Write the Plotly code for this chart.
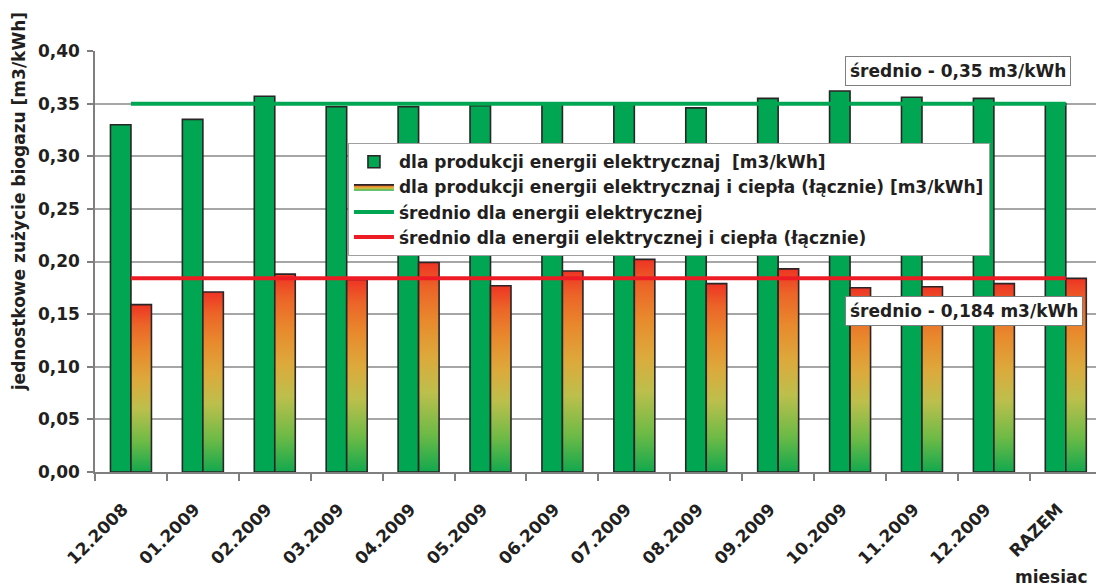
import plotly.graph_objects as go

# Monthly unit biogas consumption [m3/kWh]
months = ["12.2008", "01.2009", "02.2009", "03.2009", "04.2009", "05.2009", "06.2009",
          "07.2009", "08.2009", "09.2009", "10.2009", "11.2009", "12.2009", "RAZEM"]
electric = [0.330, 0.335, 0.357, 0.347, 0.347, 0.348, 0.350,
            0.350, 0.346, 0.355, 0.362, 0.356, 0.355, 0.350]
combined = [0.159, 0.171, 0.188, 0.183, 0.199, 0.177, 0.191,
            0.202, 0.179, 0.193, 0.175, 0.176, 0.179, 0.184]
avg_electric = 0.35
avg_combined = 0.184

y_ticks = [0.0, 0.05, 0.10, 0.15, 0.20, 0.25, 0.30, 0.35, 0.40]

names = {
    "el": "dla produkcji energii elektrycznaj\u00a0 [m3/kWh]",
    "comb": "dla produkcji energii elektrycznaj i ciepła (łącznie) [m3/kWh]",
    "avg_el": "średnio dla energii elektrycznej",
    "avg_comb": "średnio dla energii elektrycznej i ciepła (łącznie)",
}

GREEN = "#00A651"
RED = "#ED1C24"
EDGE = "#2A2526"
TXT = "#231F20"
FONT = "DejaVu Sans"
BW = 0.285  # bar width in category units

idx = list(range(len(months)))

fig = go.Figure()

# Electricity-only bars, left half of each group
fig.add_trace(go.Bar(
    x=idx, y=electric, width=BW, offset=-BW,
    marker=dict(color=GREEN, line=dict(color=EDGE, width=1.6)),
    name=names["el"],
))

# Combined heat+power bars, right half of each group, drawn with a vertical gradient
grad = [[0.0, "#12A84E"], [0.18, "#6DBA46"], [0.38, "#BDBF4C"], [0.55, "#DDA93B"],
        [0.72, "#E88A2D"], [0.88, "#EC6428"], [1.0, "#EE3424"]]
for i, v in zip(idx, combined):
    fig.add_trace(go.Scatter(
        x=[i, i, i + BW, i + BW, i], y=[0, v, v, 0, 0],
        mode="lines", fill="toself",
        fillgradient=dict(type="vertical", colorscale=grad),
        line=dict(color=EDGE, width=1.6),
        name=names["comb"], legendgroup="comb",
        showlegend=(i == 0), hoverinfo="skip",
    ))

# Average lines
fig.add_trace(go.Scatter(
    x=idx, y=[avg_electric] * len(idx), mode="lines",
    line=dict(color=GREEN, width=4), name=names["avg_el"],
))
fig.add_trace(go.Scatter(
    x=idx, y=[avg_combined] * len(idx), mode="lines",
    line=dict(color=RED, width=4), name=names["avg_comb"],
))

fig.update_layout(
    width=1096, height=586,
    margin=dict(l=95, r=0, t=51, b=114),
    paper_bgcolor="white", plot_bgcolor="white",
    separators=", ",
    font=dict(family=FONT, size=17, color=TXT, weight="bold"),
    legend=dict(
        x=0.2527, y=0.781, xanchor="left", yanchor="top",
        bgcolor="white", bordercolor="#A0A0A0", borderwidth=1,
        font=dict(family=FONT, size=17, color=TXT, weight="bold"),
        tracegroupgap=0, itemwidth=40,
    ),
    showlegend=True,
)

fig.update_xaxes(
    range=[-0.5, 13.42],
    tickmode="array", tickvals=[i - 0.11 for i in idx], ticktext=months,
    tickangle=-45, ticks="", ticklabelstandoff=19,
    tickfont=dict(family=FONT, size=17, color=TXT, weight="bold"),
    showline=True, linecolor="#7F7F7F", linewidth=1.5,
    showgrid=False, zeroline=False,
    minor=dict(tickmode="array", tickvals=[i - 0.5 for i in idx],
               ticks="outside", ticklen=7, tickcolor="#7F7F7F", tickwidth=1.5,
               showgrid=False),
)

fig.update_yaxes(
    range=[0, 0.40],
    tickmode="array", tickvals=y_ticks, tickformat=".2f",
    ticks="outside", ticklen=6, tickcolor="#7F7F7F", tickwidth=1.5,
    ticklabelstandoff=4,
    tickfont=dict(family=FONT, size=17, color=TXT, weight="bold"),
    showline=True, linecolor="#7F7F7F", linewidth=1.5,
    showgrid=True, gridcolor="#A6A6A6", gridwidth=1.5,
    zeroline=False,
)

# Axis titles
fig.add_annotation(
    text="jednostkowe zużycie biogazu [m3/kWh]", textangle=-90,
    xref="paper", yref="paper", x=-0.076, y=0.643,
    xanchor="center", yanchor="middle", showarrow=False,
    font=dict(family=FONT, size=17, color=TXT, weight="bold"),
)
fig.add_annotation(
    text="miesiac", xref="paper", yref="paper", x=0.994, y=-0.249,
    xanchor="right", yanchor="middle", showarrow=False,
    font=dict(family=FONT, size=17, color=TXT, weight="bold"),
)

# Average value labels
fig.add_annotation(
    text="średnio - 0,35 m3/kWh", xref="paper", yref="paper",
    x=(845 - 95) / 1001, y=(472 - 71) / 421.3,
    xanchor="left", yanchor="middle", showarrow=False,
    bgcolor="white", bordercolor="#7F7F7F", borderwidth=1, borderpad=4,
    font=dict(family=FONT, size=17, color=TXT, weight="bold"),
)
fig.add_annotation(
    text="średnio - 0,184 m3/kWh", xref="paper", yref="paper",
    x=(845 - 95) / 1001, y=(472 - 311) / 421.3,
    xanchor="left", yanchor="middle", showarrow=False,
    bgcolor="white", bordercolor="#7F7F7F", borderwidth=1, borderpad=4,
    font=dict(family=FONT, size=17, color=TXT, weight="bold"),
)

fig.write_html("out.html")
